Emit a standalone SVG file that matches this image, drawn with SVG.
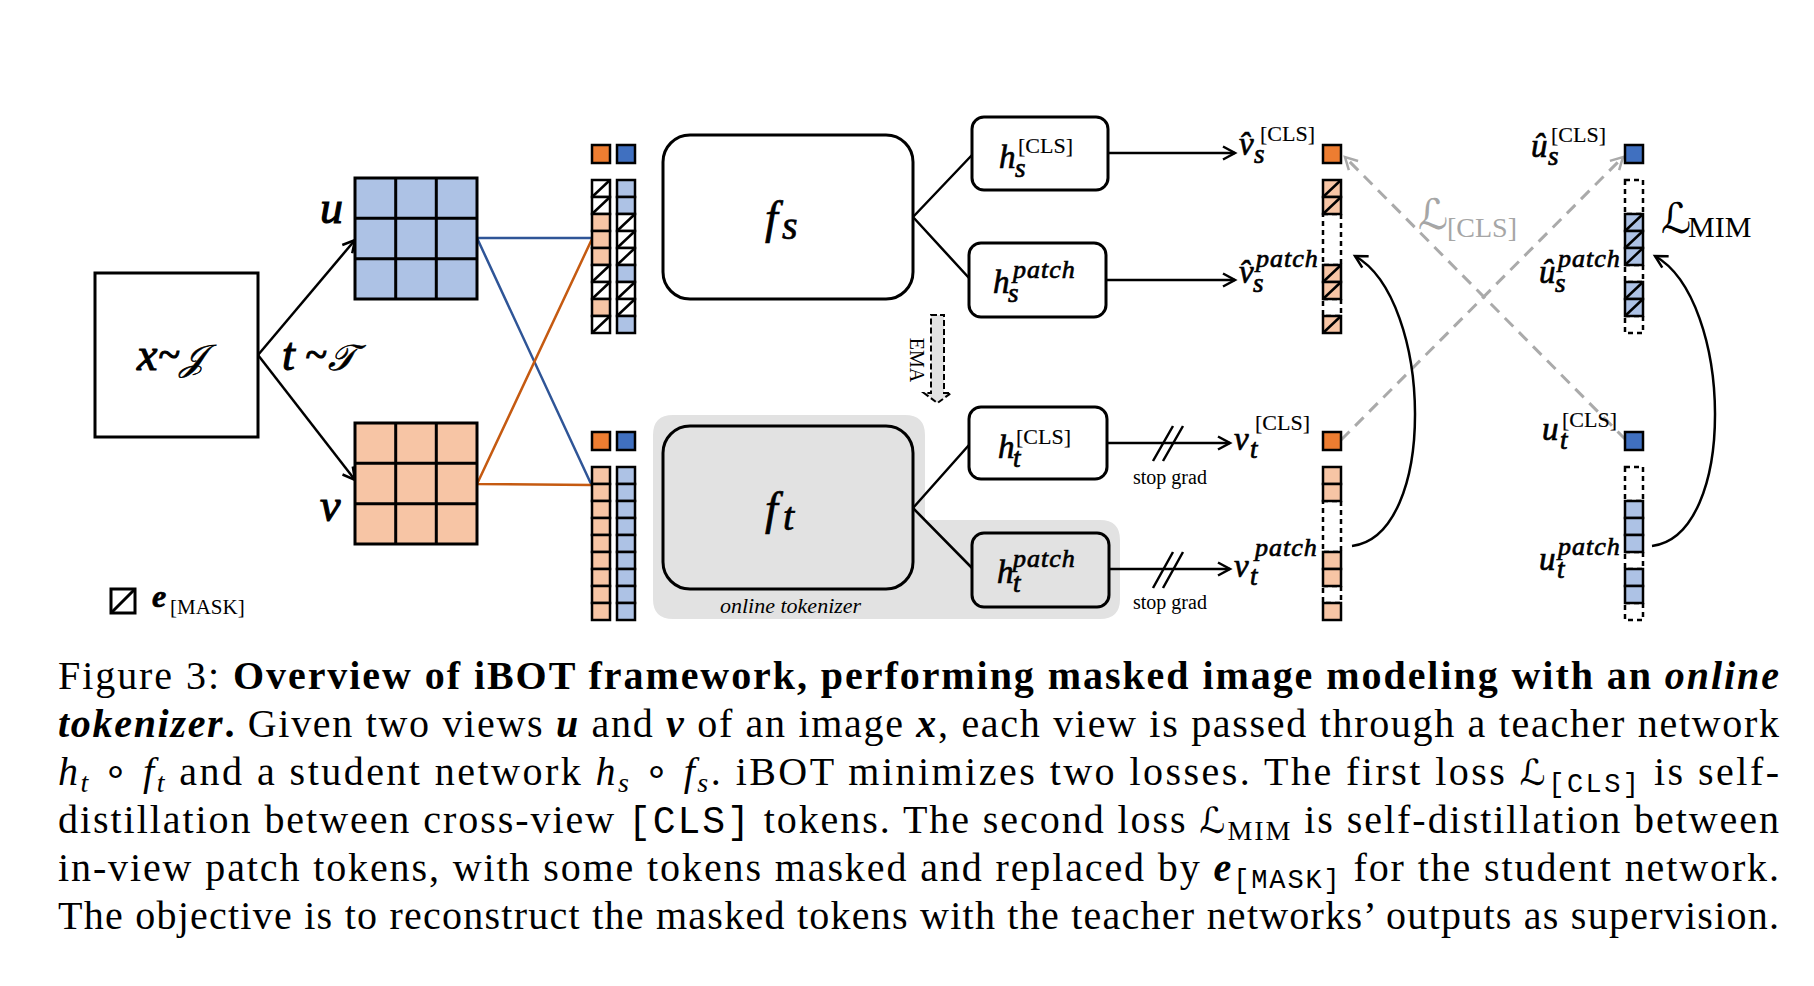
<svg xmlns="http://www.w3.org/2000/svg" xmlns:xlink="http://www.w3.org/1999/xlink" width="1814" height="986" viewBox="0 0 1814 986">
<style>
.bx{fill:#fff;stroke:#000;stroke-width:3}
.gbx{fill:#e2e2e2;stroke:#000;stroke-width:3}
.ln{fill:none;stroke:#000;stroke-width:2.5}
.gl{fill:none;stroke:#aaaaaa;stroke-width:3;stroke-dasharray:12 8}
.c{stroke:#000;stroke-width:2.5}
.o{fill:#f7c5a5}
.b{fill:#adc2e5}
.w{fill:#fff}
.oc{fill:#ed7d31;stroke:#000;stroke-width:2.5}
.bc{fill:#4070c0;stroke:#000;stroke-width:2.5}
.dsh{fill:none;stroke:#000;stroke-width:2.5;stroke-dasharray:5 4}
.mi{font-family:"Liberation Serif",serif;font-style:italic;fill:#000;stroke:#000;stroke-width:0.7}
.big{stroke-width:1.1}
.rm{font-family:"Liberation Serif",serif}
.up{font-style:normal;stroke-width:0.15}
.scr{font-family:"DejaVu Serif","DejaVu Sans",serif}
.cap{font-family:"Liberation Serif",serif;font-size:40px;fill:#000}
.mono{font-family:"Liberation Mono",monospace}
</style>
<defs>
<marker id="ah" viewBox="-15 -9 18 18" refX="0" refY="0" markerWidth="18" markerHeight="18" orient="auto" markerUnits="userSpaceOnUse"><path d="M-12,-6.5 L0,0 L-12,6.5" fill="none" stroke="#000" stroke-width="2.5"/></marker>
<marker id="ahg" viewBox="-15 -9 18 18" refX="0" refY="0" markerWidth="18" markerHeight="18" orient="auto" markerUnits="userSpaceOnUse"><path d="M-12,-6.5 L0,0 L-12,6.5" fill="none" stroke="#aaaaaa" stroke-width="2.5"/></marker>
<g id="cm"><rect class="c w" width="18" height="17"/><path class="c" d="M0,17 L18,0"/></g>
<g id="cmo"><rect class="c o" width="18" height="17"/><path class="c" d="M0,17 L18,0"/></g>
<g id="cmb"><rect class="c b" width="18" height="17"/><path class="c" d="M0,17 L18,0"/></g>
<rect id="co" class="c o" width="18" height="17"/>
<rect id="cb" class="c b" width="18" height="17"/>
</defs>

<!-- online tokenizer background -->
<g id="tokenizer-bg">
<path d="M673,415 H905 Q925,415 925,435 V520 H1100 Q1120,520 1120,540 V599 Q1120,619 1100,619 H673 Q653,619 653,599 V435 Q653,415 673,415 Z" fill="#e2e2e2"/>
<text class="rm" font-style="italic" x="720" y="613" font-size="22">online tokenizer</text>
</g>

<g id="connectors">
<path class="ln" d="M258,355 L355,240" marker-end="url(#ah)"/>
<path class="ln" d="M258,355 L355,480" marker-end="url(#ah)"/>
<path d="M477,238 L592,238 M477,238 L592,486" fill="none" stroke="#2f5597" stroke-width="2.5"/>
<path d="M477,484 L592,485 M477,484 L592,239" fill="none" stroke="#c55a11" stroke-width="2.5"/>
<path class="ln" d="M913,217 L972,155 M913,217 L969,278"/>
<path class="ln" d="M913,508 L969,445 M913,508 L972,568"/>
<path class="ln" d="M1108,153 L1235,153" marker-end="url(#ah)"/>
<path class="ln" d="M1106,280 L1235,280" marker-end="url(#ah)"/>
<path class="ln" d="M1107,443 L1230,443" marker-end="url(#ah)"/>
<path class="ln" d="M1109,569 L1230,569" marker-end="url(#ah)"/>
<path class="ln" d="M1153,461 L1173,426 M1163,461 L1183,426"/>
<path class="ln" d="M1153,588 L1173,552 M1163,588 L1183,552"/>
<text class="rm" x="1133" y="484" font-size="20">stop grad</text>
<text class="rm" x="1133" y="609" font-size="20">stop grad</text>
<path d="M931,315 H944 V393 H951 L937.5,403 L924,393 H931 Z" fill="#e2e2e2" stroke="#000" stroke-width="2" stroke-dasharray="6 3"/>
<text class="rm" font-size="20" text-anchor="middle" transform="translate(910,360) rotate(90)">EMA</text>
<path class="gl" d="M1626,440 L1345,157" marker-end="url(#ahg)"/>
<path class="gl" d="M1341,440 L1623,157" marker-end="url(#ahg)"/>
<path class="ln" d="M1352,546 C1438,535 1433,300 1355,256" marker-end="url(#ah)"/>
<path class="ln" d="M1652,546 C1738,535 1733,300 1655,256" marker-end="url(#ah)"/>
</g>

<g id="input">
<rect class="bx" x="95" y="273" width="163" height="164"/>
<text class="mi big" font-size="46"><tspan x="137" y="370">x</tspan><tspan x="158" y="368" font-size="40">~</tspan><tspan x="180" y="370" font-size="36" stroke-width="0.6">𝒥</tspan></text>
</g>
<text class="mi big" font-size="46"><tspan x="282" y="370">t</tspan><tspan x="305" y="368" font-size="40">~</tspan><tspan x="328" y="370" font-size="36" stroke-width="0.6">𝒯</tspan></text>

<g id="view-u">
<rect x="355" y="178" width="122" height="121" fill="#adc2e5" stroke="#000" stroke-width="3"/>
<path d="M395.7,178 V299 M436.3,178 V299 M355,218.3 H477 M355,258.7 H477" stroke="#000" stroke-width="3"/>
<text class="mi big" x="320" y="223" font-size="46">u</text>
</g>
<g id="view-v">
<rect x="355" y="423" width="122" height="121" fill="#f7c5a5" stroke="#000" stroke-width="3"/>
<path d="M395.7,423 V544 M436.3,423 V544 M355,463.3 H477 M355,503.7 H477" stroke="#000" stroke-width="3"/>
<text class="mi big" x="320" y="521" font-size="46">v</text>
</g>

<g id="legend">
<rect x="111" y="589" width="24" height="24" fill="#fff" stroke="#000" stroke-width="3"/>
<path d="M111,613 L135,589" stroke="#000" stroke-width="3"/>
<text class="mi" x="152" y="607" font-size="32" font-weight="bold">e</text>
<text class="rm" x="170" y="614" font-size="21">[MASK]</text>
</g>

<g id="student-input">
<rect class="oc" x="592" y="145" width="18" height="18"/>
<rect class="bc" x="617" y="145" width="18" height="18"/>
<use href="#cm" x="592" y="180"/><use href="#cm" x="592" y="197"/><use href="#co" x="592" y="214"/><use href="#co" x="592" y="231"/><use href="#co" x="592" y="248"/><use href="#cm" x="592" y="265"/><use href="#cm" x="592" y="282"/><use href="#co" x="592" y="299"/><use href="#cm" x="592" y="316"/>
<use href="#cb" x="617" y="180"/><use href="#cb" x="617" y="197"/><use href="#cm" x="617" y="214"/><use href="#cm" x="617" y="231"/><use href="#cm" x="617" y="248"/><use href="#cb" x="617" y="265"/><use href="#cm" x="617" y="282"/><use href="#cm" x="617" y="299"/><use href="#cb" x="617" y="316"/>
</g>
<g id="teacher-input">
<rect class="oc" x="592" y="432" width="18" height="18"/>
<rect class="bc" x="617" y="432" width="18" height="18"/>
<use href="#co" x="592" y="467"/><use href="#co" x="592" y="484"/><use href="#co" x="592" y="501"/><use href="#co" x="592" y="518"/><use href="#co" x="592" y="535"/><use href="#co" x="592" y="552"/><use href="#co" x="592" y="569"/><use href="#co" x="592" y="586"/><use href="#co" x="592" y="603"/>
<use href="#cb" x="617" y="467"/><use href="#cb" x="617" y="484"/><use href="#cb" x="617" y="501"/><use href="#cb" x="617" y="518"/><use href="#cb" x="617" y="535"/><use href="#cb" x="617" y="552"/><use href="#cb" x="617" y="569"/><use href="#cb" x="617" y="586"/><use href="#cb" x="617" y="603"/>
</g>

<g id="fs">
<rect class="bx" x="663" y="135" width="250" height="164" rx="27"/>
<text class="mi" font-size="46"><tspan x="765" y="233">f</tspan><tspan x="782" y="239" font-size="40">s</tspan></text>
</g>
<g id="ft">
<rect class="gbx" x="663" y="426" width="250" height="163" rx="27"/>
<text class="mi" font-size="46"><tspan x="765" y="524">f</tspan><tspan x="783" y="530" font-size="40">t</tspan></text>
</g>

<g id="hs-cls">
<rect class="bx" x="972" y="117" width="136" height="73" rx="12"/>
<text class="mi" font-size="33"><tspan x="999" y="168">h</tspan><tspan x="1015" y="177" font-size="27">s</tspan><tspan class="up" x="1018" y="153" font-size="22">[CLS]</tspan></text>
</g>
<g id="hs-patch">
<rect class="bx" x="969" y="243" width="137" height="74" rx="12"/>
<text class="mi" font-size="33"><tspan x="993" y="293">h</tspan><tspan x="1008" y="302" font-size="27">s</tspan><tspan x="1013" y="278" font-size="26" letter-spacing="1">patch</tspan></text>
</g>
<g id="ht-cls">
<rect class="bx" x="969" y="407" width="138" height="72" rx="12"/>
<text class="mi" font-size="33"><tspan x="998" y="458">h</tspan><tspan x="1013" y="467" font-size="27">t</tspan><tspan class="up" x="1016" y="444" font-size="22">[CLS]</tspan></text>
</g>
<g id="ht-patch">
<rect class="gbx" x="972" y="533" width="137" height="74" rx="12"/>
<text class="mi" font-size="33"><tspan x="997" y="583">h</tspan><tspan x="1013" y="592" font-size="27">t</tspan><tspan x="1013" y="567" font-size="26" letter-spacing="1">patch</tspan></text>
</g>

<g id="vs-out">
<text class="mi" font-size="33"><tspan x="1239" y="155">v̂</tspan><tspan x="1254" y="163" font-size="27">s</tspan><tspan class="up" x="1260" y="141" font-size="22">[CLS]</tspan></text>
<text class="mi" font-size="33"><tspan x="1239" y="283">v̂</tspan><tspan x="1253" y="292" font-size="27">s</tspan><tspan x="1256" y="267" font-size="26" letter-spacing="1">patch</tspan></text>
<rect class="oc" x="1323" y="145" width="18" height="18"/>
<rect class="dsh" x="1323" y="214" width="18" height="51"/>
<rect class="dsh" x="1323" y="299" width="18" height="17"/>
<use href="#cmo" x="1323" y="180"/><use href="#cmo" x="1323" y="197"/><use href="#cmo" x="1323" y="265"/><use href="#cmo" x="1323" y="282"/><use href="#cmo" x="1323" y="316"/>
</g>
<g id="vt-out">
<text class="mi" font-size="33"><tspan x="1234" y="450">v</tspan><tspan x="1250" y="458" font-size="27">t</tspan><tspan class="up" x="1255" y="430" font-size="22">[CLS]</tspan></text>
<text class="mi" font-size="33"><tspan x="1234" y="577">v</tspan><tspan x="1250" y="585" font-size="27">t</tspan><tspan x="1255" y="556" font-size="26" letter-spacing="1">patch</tspan></text>
<rect class="oc" x="1323" y="432" width="18" height="18"/>
<rect class="dsh" x="1323" y="501" width="18" height="51"/>
<rect class="dsh" x="1323" y="586" width="18" height="17"/>
<use href="#co" x="1323" y="467"/><use href="#co" x="1323" y="484"/><use href="#co" x="1323" y="552"/><use href="#co" x="1323" y="569"/><use href="#co" x="1323" y="603"/>
</g>
<g id="us-out">
<text class="mi" font-size="33"><tspan x="1531" y="157">û</tspan><tspan x="1548" y="165" font-size="27">s</tspan><tspan class="up" x="1551" y="142" font-size="22">[CLS]</tspan></text>
<text class="mi" font-size="33"><tspan x="1539" y="283">û</tspan><tspan x="1555" y="292" font-size="27">s</tspan><tspan x="1558" y="267" font-size="26" letter-spacing="1">patch</tspan></text>
<rect class="bc" x="1625" y="145" width="18" height="18"/>
<rect class="dsh" x="1625" y="180" width="18" height="34"/>
<rect class="dsh" x="1625" y="265" width="18" height="17"/>
<rect class="dsh" x="1625" y="316" width="18" height="17"/>
<use href="#cmb" x="1625" y="214"/><use href="#cmb" x="1625" y="231"/><use href="#cmb" x="1625" y="248"/><use href="#cmb" x="1625" y="282"/><use href="#cmb" x="1625" y="299"/>
</g>
<g id="ut-out">
<text class="mi" font-size="33"><tspan x="1542" y="440">u</tspan><tspan x="1560" y="449" font-size="27">t</tspan><tspan class="up" x="1562" y="427" font-size="22">[CLS]</tspan></text>
<text class="mi" font-size="33"><tspan x="1539" y="570">u</tspan><tspan x="1557" y="578" font-size="27">t</tspan><tspan x="1558" y="555" font-size="26" letter-spacing="1">patch</tspan></text>
<rect class="bc" x="1625" y="432" width="18" height="18"/>
<rect class="dsh" x="1625" y="467" width="18" height="34"/>
<rect class="dsh" x="1625" y="552" width="18" height="17"/>
<rect class="dsh" x="1625" y="603" width="18" height="17"/>
<use href="#cb" x="1625" y="501"/><use href="#cb" x="1625" y="518"/><use href="#cb" x="1625" y="535"/><use href="#cb" x="1625" y="569"/><use href="#cb" x="1625" y="586"/>
</g>

<g id="loss-cls">
<text fill="#a6a6a6"><tspan class="scr" x="1418" y="229" font-size="42">ℒ</tspan><tspan class="rm" x="1447" y="237" font-size="28">[CLS]</tspan></text>
</g>
<g id="loss-mim">
<text fill="#000"><tspan class="scr" x="1661" y="233" font-size="42">ℒ</tspan><tspan class="rm" x="1688" y="237" font-size="30">MIM</tspan></text>
</g>

<g id="caption">
<text class="cap" x="58" y="689" textLength="1721" lengthAdjust="spacing">Figure 3: <tspan font-weight="bold">Overview of iBOT framework, performing masked image modeling with an </tspan><tspan font-weight="bold" font-style="italic">online</tspan></text>
<text class="cap" x="58" y="737" textLength="1721" lengthAdjust="spacing"><tspan font-weight="bold" font-style="italic">tokenizer</tspan><tspan font-weight="bold">.</tspan> Given two views <tspan font-weight="bold" font-style="italic">u</tspan> and <tspan font-weight="bold" font-style="italic">v</tspan> of an image <tspan font-weight="bold" font-style="italic">x</tspan>, each view is passed through a teacher network</text>
<text class="cap" x="58" y="785" textLength="1721" lengthAdjust="spacing"><tspan font-style="italic">h</tspan><tspan font-style="italic" font-size="28" dy="7">t</tspan><tspan dy="-7"> ∘ </tspan><tspan font-style="italic">f</tspan><tspan font-style="italic" font-size="28" dy="7">t</tspan><tspan dy="-7"> and a student network </tspan><tspan font-style="italic">h</tspan><tspan font-style="italic" font-size="28" dy="7">s</tspan><tspan dy="-7"> ∘ </tspan><tspan font-style="italic">f</tspan><tspan font-style="italic" font-size="28" dy="7">s</tspan><tspan dy="-7">. iBOT minimizes two losses. The first loss </tspan><tspan class="scr" font-size="36">ℒ</tspan><tspan class="mono" font-size="27" dy="7">[CLS]</tspan><tspan dy="-7"> is self-</tspan></text>
<text class="cap" x="58" y="833" textLength="1721" lengthAdjust="spacing">distillation between cross-view <tspan class="mono" font-size="38">[CLS]</tspan> tokens. The second loss <tspan class="scr" font-size="36">ℒ</tspan><tspan font-size="28" dy="7">MIM</tspan><tspan dy="-7"> is self-distillation between</tspan></text>
<text class="cap" x="58" y="881" textLength="1721" lengthAdjust="spacing">in-view patch tokens, with some tokens masked and replaced by <tspan font-weight="bold" font-style="italic">e</tspan><tspan class="mono" font-size="27" dy="7">[MASK]</tspan><tspan dy="-7"> for the student network.</tspan></text>
<text class="cap" x="58" y="929" textLength="1721" lengthAdjust="spacing">The objective is to reconstruct the masked tokens with the teacher networks’ outputs as supervision.</text>
</g>
</svg>
